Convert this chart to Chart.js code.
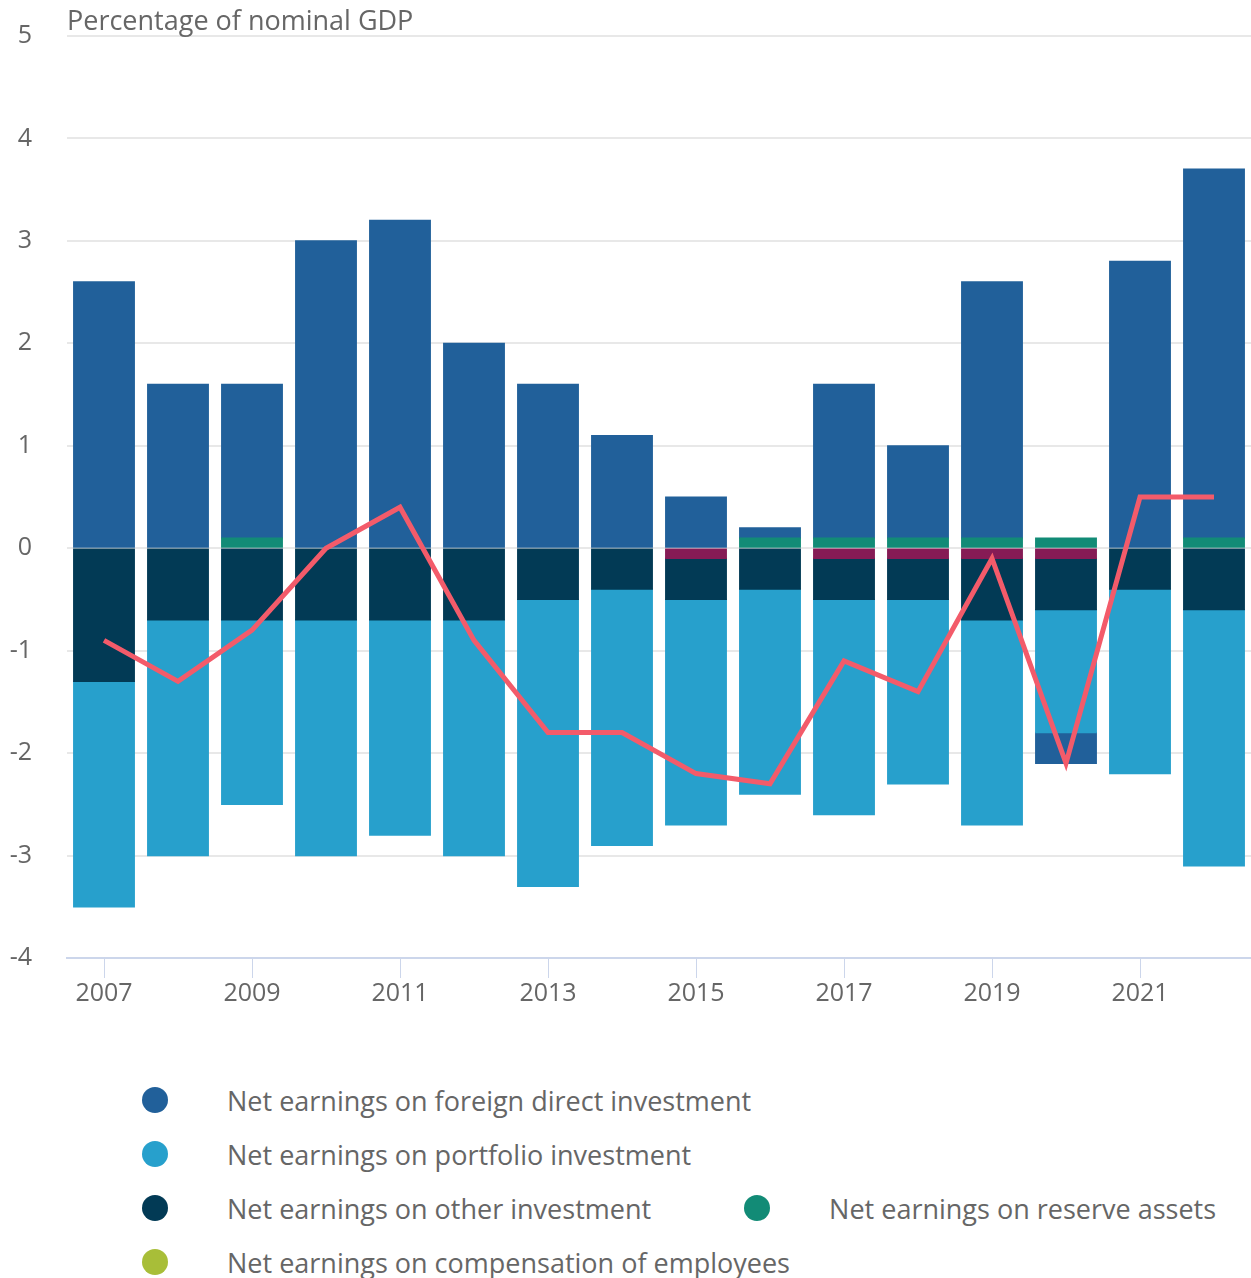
<!DOCTYPE html>
<html>
<head>
<meta charset="utf-8">
<title>Net primary income</title>
<script src="https://cdn.jsdelivr.net/npm/chart.js@4.4.1/dist/chart.umd.min.js"></script>
<style>
    body {
        margin: 0;
        width: 1251px;
        height: 1278px;
        overflow: hidden;
        position: relative;
        background: #ffffff;
        font-family: 'Open Sans', sans-serif;
    }
    #chartWrap {
        position: absolute;
        left: 0;
        top: 0;
        width: 1251px;
        height: 1030px;
    }
    #legend {
        position: absolute;
        left: 142px;
        top: 1073px;
        width: 1109px;
        display: flex;
        flex-wrap: wrap;
        column-gap: 93px;
    }
    .legend-item {
        display: flex;
        align-items: center;
        height: 54px;
        color: #666666;
        font-size: 27px;
        white-space: nowrap;
    }
    .legend-dot {
        width: 26px;
        height: 26px;
        border-radius: 50%;
        margin-right: 59px;
        flex: none;
    }
</style>
</head>
<body>
<div id="chartWrap"><canvas id="incomeChart" width="1251" height="1030"></canvas></div>
<div id="legend"></div>

<script>
// =========================================================
// DATA (percentage of nominal GDP)
// =========================================================
const years = ['2007', '2008', '2009', '2010', '2011', '2012', '2013', '2014',
               '2015', '2016', '2017', '2018', '2019', '2020', '2021', '2022'];

const fdi          = [2.6, 1.6, 1.5, 3.0, 3.2, 2.0, 1.6, 1.1, 0.5, 0.1, 1.5, 0.9, 2.5, -0.3, 2.8, 3.6];
const portfolio    = [-2.2, -2.3, -1.8, -2.3, -2.1, -2.3, -2.8, -2.5, -2.2, -2.0, -2.1, -1.8, -2.0, -1.2, -1.8, -2.5];
const otherInv     = [-1.3, -0.7, -0.7, -0.7, -0.7, -0.7, -0.5, -0.4, -0.4, -0.4, -0.4, -0.4, -0.6, -0.5, -0.4, -0.6];
const reserve      = [0, 0, 0.1, 0, 0, 0, 0, 0, 0, 0.1, 0.1, 0.1, 0.1, 0.1, 0, 0.1];
const compensation = [0, 0, 0, 0, 0, 0, 0, 0, 0, 0, 0, 0, 0, 0, 0, 0];
const otherPrimary = [0, 0, 0, 0, 0, 0, 0, 0, -0.1, 0, -0.1, -0.1, -0.1, -0.1, 0, 0];
const total        = [-0.9, -1.3, -0.8, 0.0, 0.4, -0.9, -1.8, -1.8, -2.2, -2.3, -1.1, -1.4, -0.1, -2.1, 0.5, 0.5];

const yTicks = [-4, -3, -2, -1, 0, 1, 2, 3, 4, 5];
const yTitle = 'Percentage of nominal GDP';

const COLORS = {
    fdi:          '#21609a',
    portfolio:    '#27a0cc',
    other:        '#023a55',
    reserve:      '#128b76',
    compensation: '#a8be38',
    otherPrimary: '#861b55',
    total:        '#f35b6a',
};

// zero-size segments are skipped so they leave no sliver
const nz = arr => arr.map(v => (v === 0 ? null : v));

// =========================================================
// 1. AXIS TITLE — drawn above the top gridline
// =========================================================
const axisTitle = {
    id: 'axisTitle',
    afterDraw(chart) {
        const { ctx, chartArea } = chart;
        ctx.save();
        ctx.font = '27px "Open Sans"';
        ctx.fillStyle = '#666666';
        ctx.textAlign = 'left';
        ctx.textBaseline = 'alphabetic';
        ctx.fillText(yTitle, chartArea.left, chartArea.top - 6);
        ctx.restore();
    }
};

// =========================================================
// 2. CHART — stacked bars + total line
// =========================================================
const barBase = {
    type: 'bar',
    stack: 'income',
    order: 1,
    borderWidth: 0,
    inflateAmount: 0.6,
    barPercentage: 0.82,
    categoryPercentage: 1.0,
};

// stacking follows dataset index: reserve / other primary sit next to zero
const datasets = [
    { ...barBase, key: 'otherPrimary', label: 'Net earnings on other primary income', data: nz(otherPrimary), backgroundColor: COLORS.otherPrimary },
    { ...barBase, key: 'reserve', label: 'Net earnings on reserve assets', data: nz(reserve), backgroundColor: COLORS.reserve },
    { ...barBase, key: 'other', label: 'Net earnings on other investment', data: nz(otherInv), backgroundColor: COLORS.other },
    { ...barBase, key: 'portfolio', label: 'Net earnings on portfolio investment', data: nz(portfolio), backgroundColor: COLORS.portfolio },
    { ...barBase, key: 'fdi', label: 'Net earnings on foreign direct investment', data: nz(fdi), backgroundColor: COLORS.fdi },
    { ...barBase, key: 'compensation', label: 'Net earnings on compensation of employees', data: nz(compensation), backgroundColor: COLORS.compensation },
    {
        type: 'line',
        key: 'total',
        label: 'Net primary income',
        stack: 'total',
        order: 0,
        data: total,
        borderColor: COLORS.total,
        backgroundColor: COLORS.total,
        borderWidth: 5,
        borderJoinStyle: 'miter',
        pointRadius: 0,
        tension: 0,
        fill: false,
    },
];

const chart = new Chart(document.getElementById('incomeChart'), {
    data: { labels: years, datasets: datasets },
    plugins: [axisTitle],
    options: {
        responsive: false,
        animation: false,
        layout: { padding: { top: 36, right: 0, bottom: 12, left: 0 } },
        plugins: {
            legend: { display: false },
            tooltip: { enabled: false },
        },
        scales: {
            x: {
                stacked: true,
                offset: true,
                afterFit: scale => { scale.height = 60; },
                grid: {
                    offset: false,
                    drawOnChartArea: false,
                    drawTicks: true,
                    tickLength: 20,
                    color: '#ccd6eb',
                    lineWidth: 1,
                },
                border: { display: true, color: '#ccd6eb', width: 2 },
                ticks: {
                    autoSkip: false,
                    maxRotation: 0,
                    padding: 1,
                    color: '#666666',
                    font: { family: 'Open Sans', size: 25 },
                    callback: function (val, i) {
                        return i % 2 === 0 ? this.getLabelForValue(val) : null;
                    },
                },
            },
            y: {
                stacked: true,
                min: yTicks[0],
                max: yTicks[yTicks.length - 1],
                afterFit: scale => { scale.width = 67; },
                afterBuildTicks: scale => { scale.ticks = yTicks.map(v => ({ value: v })); },
                // invisible 35px tick marks push the labels left without
                // the extra top/bottom room that ticks.padding would add
                grid: {
                    color: '#e8e8e8',
                    lineWidth: 2,
                    drawTicks: true,
                    tickLength: 35,
                    tickColor: 'rgba(0,0,0,0)',
                },
                border: { display: false },
                ticks: {
                    padding: 0,
                    color: '#666666',
                    font: { family: 'Open Sans', size: 25 },
                    callback: val => String(val),
                },
            },
        },
    },
});

// =========================================================
// 3. HTML LEGEND — flows like the original, rows of 54px
// =========================================================
const legendOrder = ['fdi', 'portfolio', 'other', 'reserve', 'compensation', 'otherPrimary', 'total'];
const legendBox = document.getElementById('legend');

legendOrder.forEach(key => {
    const ds = chart.data.datasets.find(d => d.key === key);
    const item = document.createElement('div');
    item.className = 'legend-item';
    item.innerHTML = `<span class="legend-dot" style="background:${ds.backgroundColor}"></span><span>${ds.label}</span>`;
    legendBox.appendChild(item);
});
</script>
</body>
</html>
